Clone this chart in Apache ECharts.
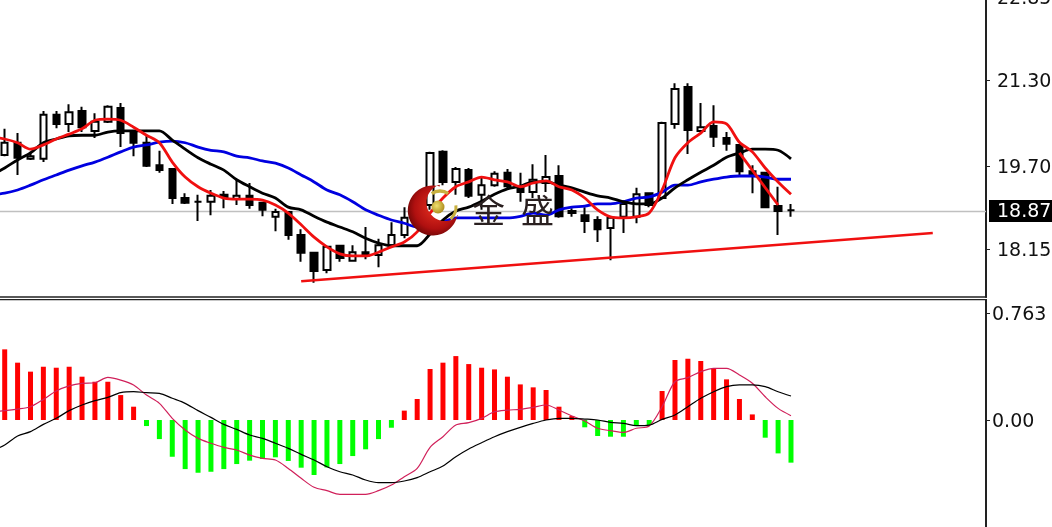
<!DOCTYPE html>
<html><head><meta charset="utf-8">
<style>html,body{margin:0;padding:0;background:#fff;overflow:hidden}#c{width:1052px;height:527px}</style>
<script src="https://cdn.jsdelivr.net/npm/echarts@6/dist/echarts.min.js"></script>
</head><body><div id="c"></div>
<script>
// [open, close, low, high]; first entry lies just off the left edge
const candles = [
[20.05,20.20,19.95,20.30],
[19.90,20.13,19.88,20.39],[20.13,19.85,19.53,20.31],[19.83,19.88,19.81,19.96],[19.83,20.65,19.77,20.72],
[20.65,20.48,20.40,20.72],[20.48,20.70,20.33,20.85],[20.72,20.42,20.33,20.80],[20.35,20.52,20.22,20.68],
[20.52,20.80,20.50,20.83],[20.78,20.31,20.05,20.87],[20.31,20.13,19.88,20.37],[20.13,19.70,19.68,20.27],
[19.71,19.62,19.57,19.98],[19.64,19.10,18.99,19.64],[19.10,19.01,18.99,19.19],[19.03,19.03,18.67,19.16],
[19.03,19.14,18.78,19.25],[19.16,19.12,18.91,19.23],[19.08,19.14,18.97,19.44],[19.14,18.97,18.90,19.38],
[19.01,18.88,18.76,19.03],[18.75,18.84,18.48,18.90],[18.84,18.41,18.32,18.84],[18.41,18.08,17.91,18.52],
[18.08,17.74,17.52,18.08],[17.76,18.19,17.70,18.19],[18.21,17.98,17.91,18.21],[17.93,18.09,17.91,18.22],
[18.09,18.02,17.96,18.56],[18.04,18.22,17.81,18.34],[18.22,18.41,18.21,18.65],[18.41,18.73,18.35,18.93],
[18.65,18.97,18.60,19.06],[18.97,19.94,18.88,19.96],[19.96,19.40,19.34,19.99],[19.40,19.64,19.16,19.68],
[19.62,19.14,19.10,19.66],[19.16,19.34,18.88,19.49],[19.34,19.55,19.31,19.60],[19.57,19.32,19.25,19.64],
[19.32,19.21,19.03,19.57],[19.21,19.44,19.10,19.73],[19.38,19.49,19.21,19.90],[19.51,18.76,18.73,19.71],
[18.82,18.86,18.75,18.91],[18.78,18.67,18.45,18.93],[18.69,18.52,18.28,18.76],[18.54,18.73,17.94,18.73],
[18.75,18.99,18.45,19.06],[18.75,19.17,18.63,19.29],[19.19,18.97,18.93,19.19],[19.10,20.50,19.08,20.52],
[20.48,21.13,20.39,21.24],[21.17,20.37,19.92,21.24],[20.35,20.42,20.35,20.87],[20.44,20.24,20.05,20.83],
[20.22,20.11,19.98,20.33],[20.09,19.60,19.51,20.09],[19.60,19.53,19.19,19.71],[19.57,18.93,18.91,19.58],
[18.95,18.86,18.41,19.31],[18.87,18.87,18.75,18.99]
];
const maRed = [20.24,20.20,20.13,20.01,20.09,20.20,20.29,20.39,20.55,20.57,20.55,20.42,20.27,20.13,19.77,19.49,19.31,19.19,19.10,19.08,19.08,19.06,18.97,18.82,18.60,18.37,18.19,18.06,18.02,18.02,18.09,18.19,18.28,18.47,18.82,19.10,19.31,19.40,19.49,19.44,19.40,19.31,19.38,19.42,19.31,19.25,19.10,18.88,18.75,18.73,18.75,18.82,19.25,19.85,20.13,20.31,20.52,20.48,20.14,19.96,19.66,19.40,19.17];
const maBlack = [19.53,19.66,19.81,19.94,20.13,20.20,20.26,20.27,20.27,20.33,20.35,20.35,20.35,20.35,20.18,20.01,19.85,19.73,19.62,19.44,19.31,19.19,19.10,18.93,18.88,18.76,18.65,18.56,18.47,18.35,18.26,18.21,18.21,18.21,18.43,18.69,18.86,18.93,19.04,19.17,19.27,19.32,19.40,19.40,19.34,19.29,19.21,19.14,19.10,19.03,18.99,18.99,19.10,19.29,19.44,19.58,19.71,19.86,19.94,20.01,20.01,19.99,19.83];
const maBlue = [19.16,19.19,19.25,19.34,19.44,19.53,19.62,19.70,19.77,19.86,19.96,20.05,20.09,20.14,20.16,20.13,20.05,19.99,19.96,19.88,19.85,19.79,19.75,19.66,19.53,19.40,19.25,19.16,19.03,18.88,18.78,18.69,18.63,18.56,18.56,18.65,18.73,18.73,18.73,18.73,18.73,18.76,18.82,18.78,18.88,18.93,18.95,18.99,18.99,19.03,19.10,19.12,19.21,19.34,19.34,19.40,19.45,19.49,19.51,19.51,19.49,19.45,19.45];
const trendLong = [[24,17.55],[73,18.45]];
const trendShort = [[58,19.94],[61,18.97]];
const lastPrice = 18.87;
const priceTicks = [22.85,21.30,19.70,18.15];
const macdTicks = [0.763,0];
const macdBars = [0.55,0.504,0.409,0.345,0.380,0.373,0.380,0.309,0.273,0.273,0.178,0.095,-0.043,-0.136,-0.262,-0.350,-0.376,-0.369,-0.350,-0.314,-0.290,-0.278,-0.266,-0.292,-0.340,-0.392,-0.338,-0.314,-0.257,-0.209,-0.136,-0.055,0.067,0.150,0.364,0.409,0.456,0.399,0.373,0.361,0.309,0.254,0.233,0.214,0.095,0.029,-0.052,-0.114,-0.119,-0.119,-0.043,-0.036,0.207,0.428,0.437,0.421,0.369,0.290,0.150,0.040,-0.126,-0.238,-0.304];
const macdFast = [0.06,0.067,0.078,0.095,0.147,0.207,0.243,0.262,0.266,0.304,0.285,0.250,0.178,0.119,0.012,-0.071,-0.131,-0.166,-0.195,-0.214,-0.250,-0.273,-0.285,-0.345,-0.416,-0.480,-0.504,-0.530,-0.530,-0.530,-0.504,-0.464,-0.404,-0.345,-0.195,-0.119,-0.036,-0.019,0.012,0.059,0.071,0.076,0.090,0.107,0.071,0.029,-0.007,-0.059,-0.076,-0.088,-0.059,-0.043,0.095,0.273,0.302,0.345,0.369,0.369,0.321,0.262,0.166,0.083,0.031];
const macdSlow = [-0.22,-0.178,-0.114,-0.083,-0.031,0.012,0.067,0.107,0.138,0.162,0.195,0.202,0.195,0.190,0.155,0.119,0.067,0.019,-0.031,-0.067,-0.107,-0.131,-0.166,-0.202,-0.245,-0.285,-0.333,-0.369,-0.392,-0.428,-0.447,-0.447,-0.435,-0.411,-0.369,-0.328,-0.262,-0.207,-0.162,-0.119,-0.083,-0.052,-0.024,0,0.012,0.012,0.007,0,-0.017,-0.024,-0.040,-0.036,0.005,0.036,0.095,0.155,0.202,0.238,0.250,0.250,0.238,0.202,0.171];
const categories = Array.from({length:78},(_,i)=>String(i));

const BAND = 12.89, GRID_L = -14.635, GRID_W = BAND*78, AX_OFF = 986-(GRID_L+GRID_W);
const labelStyle = (color)=>({fontFamily:'DejaVu Sans',fontSize:19,color,padding:[4,0,0,0]});
const labelRich = {k:labelStyle('#111111'),w:labelStyle('#ffffff')};
function lineS(name,data,color,width,xi,yi,smooth){return {name,type:'line',data,xAxisIndex:xi,yAxisIndex:yi,showSymbol:false,symbol:'none',silent:true,animation:false,smooth:smooth||false,lineStyle:{color,width},connectNulls:true,z:3};}

// decorative crescent outline for the watermark
function crescent(){
  const pts=[], c=[432.8,210.5], R=25, ic=[445,202.5], r=18.5;
  const a0=Math.atan2(186-c[1],440-c[0]), a1=Math.atan2(215-c[1],458-c[0])-2*Math.PI;
  for(let k=0;k<=60;k++){const a=a0+(a1-a0)*k/60;pts.push([c[0]+R*Math.cos(a),c[1]+R*Math.sin(a)]);}
  const b0=Math.atan2(215-ic[1],458-ic[0]), b1=Math.atan2(186-ic[1],440-ic[0])+2*Math.PI;
  for(let k=0;k<=40;k++){const a=b0+(b1-b0)*k/40;pts.push([ic[0]+r*Math.cos(a),ic[1]+r*Math.sin(a)]);}
  return pts;
}
const chart = echarts.init(document.getElementById('c'),null,{renderer:'canvas'});
chart.setOption({
  animation:false, backgroundColor:'#ffffff',
  grid:[
    {left:GRID_L,top:-5,width:GRID_W,height:302,outerBoundsMode:'none',containLabel:false},
    {left:GRID_L,top:300,width:GRID_W,height:227,outerBoundsMode:'none',containLabel:false}
  ],
  xAxis:[
    {type:'category',gridIndex:0,data:categories,show:false,boundaryGap:true},
    {type:'category',gridIndex:1,data:categories,show:false,boundaryGap:true}
  ],
  yAxis:[
    {type:'value',gridIndex:0,position:'right',offset:AX_OFF,min:17.255,max:22.884,splitLine:{show:false},
     axisLine:{show:true,onZero:false,lineStyle:{color:'#222',width:2}},
     axisTick:{show:true,customValues:[21.30,19.70,18.15],length:4,lineStyle:{color:'#222'}},
     axisLabel:{show:true,margin:11,customValues:priceTicks.concat([lastPrice]),rich:labelRich,
       formatter:v=>'{'+(Math.abs(v-lastPrice)<0.001?'w':'k')+'|'+Number(v).toFixed(2)+'}'}},
    {type:'value',gridIndex:1,position:'right',offset:AX_OFF,min:-0.763,max:0.856,splitLine:{show:false},
     axisLine:{show:true,onZero:false,lineStyle:{color:'#222',width:2}},
     axisTick:{show:true,customValues:macdTicks,length:4,lineStyle:{color:'#222'}},
     axisLabel:{show:true,margin:6,customValues:macdTicks,rich:labelRich,
       formatter:v=>'{k|'+(Number(v)===0?'0.00':String(v))+'}'}}
  ],
  series:[
    {type:'candlestick',data:candles,xAxisIndex:0,yAxisIndex:0,barWidth:7,silent:true,z:2,
     itemStyle:{color:'#ffffff',color0:'#000000',borderColor:'#000000',borderColor0:'#000000',borderWidth:2},
     markLine:{silent:true,symbol:'none',animation:false,label:{show:false},z:1,
       lineStyle:{color:'#c0c0c0',type:'solid',width:1.4},
       data:[[{x:0,yAxis:lastPrice-0.01},{x:986,yAxis:lastPrice-0.01}]]}},
    lineS('blue',maBlue,'#0000e0',2.8,0,0,0.3),
    lineS('black',maBlack,'#000000',2.8,0,0,0.3),
    lineS('red',maRed,'#f01010',2.8,0,0,0.3),
    lineS('trendLong',trendLong,'#f01010',2.5,0,0),
    lineS('trendShort',trendShort,'#f01010',2.8,0,0),
    {type:'bar',data:macdBars,xAxisIndex:1,yAxisIndex:1,barWidth:5,silent:true,z:2,
     itemStyle:{color:p=>p.value>=0?'#ff0000':'#00ff00'}},
    lineS('macdFast',macdFast,'#d0205a',1.2,1,1,0.3),
    lineS('macdSlow',macdSlow,'#000000',1.2,1,1,0.3)
  ],
  graphic:{elements:[
    {type:'line',silent:true,z:10,shape:{x1:0,y1:297,x2:987,y2:297},style:{stroke:'#222',lineWidth:1.5}},
    {type:'line',silent:true,z:10,shape:{x1:0,y1:299.7,x2:987,y2:299.7},style:{stroke:'#222',lineWidth:1.2}},
    {type:'rect',silent:true,z:-1,shape:{x:989,y:200,width:63,height:22},style:{fill:'#000'}},
    {type:'polygon',silent:true,z:50,shape:{points:crescent()},
     style:{fill:{type:'radial',x:0.55,y:0.45,r:0.6,colorStops:[{offset:0,color:'#e83020'},{offset:0.7,color:'#b01010'},{offset:1,color:'#6a0606'}]}}},
    {type:'circle',silent:true,z:51,shape:{cx:438,cy:207,r:6.5},
     style:{fill:{type:'radial',x:0.4,y:0.4,r:0.6,colorStops:[{offset:0,color:'#f0e070'},{offset:1,color:'#b09020'}]}}},
    {type:'arc',silent:true,z:51,shape:{cx:440,cy:205,r:14,startAngle:-2.2,endAngle:-0.95,clockwise:true},style:{stroke:'#c8b040',fill:'none',lineWidth:3.5}},
    {type:'arc',silent:true,z:51,shape:{cx:440,cy:207,r:16,startAngle:-0.1,endAngle:0.85,clockwise:true},style:{stroke:'#c8b040',fill:'none',lineWidth:3}},
    {type:'text',silent:true,z:50,x:472,y:194,style:{text:'金',fontFamily:'Noto Sans CJK SC',fontSize:33,fontWeight:400,fill:'#2a2020'}},
    {type:'text',silent:true,z:50,x:521,y:194,style:{text:'盛',fontFamily:'Noto Sans CJK SC',fontSize:33,fontWeight:400,fill:'#2a2020'}}
  ]}
});
</script></body></html>
